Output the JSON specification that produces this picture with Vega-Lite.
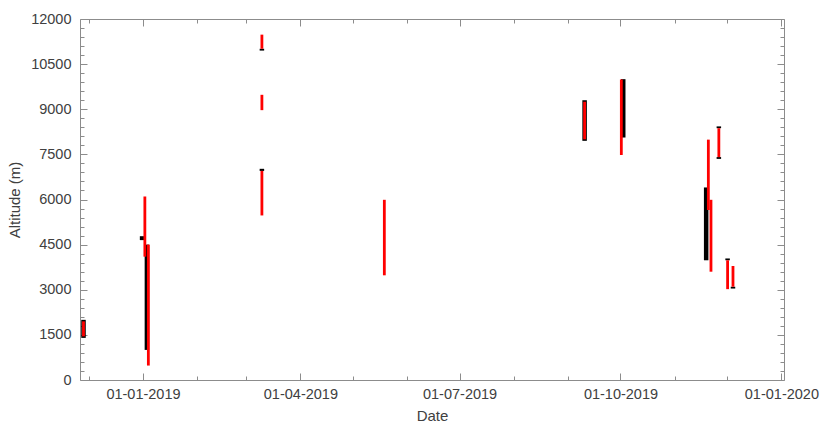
{
  "$schema": "https://vega.github.io/schema/vega-lite/v6.json",
  "autosize": "none",
  "width": 704,
  "height": 361,
  "padding": {"left": 80, "top": 19, "right": 36, "bottom": 46},
  "background": "white",
  "config": {
    "view": {"stroke": null},
    "axis": {
      "labelFont": "Liberation Sans",
      "titleFont": "Liberation Sans",
      "labelFontSize": 14.5,
      "titleFontSize": 15,
      "titleFontWeight": "normal",
      "labelColor": "#404040",
      "titleColor": "#404040",
      "domainColor": "#8c8c8c",
      "tickColor": "#8c8c8c",
      "tickWidth": 1,
      "grid": false
    }
  },
  "data": {
    "values": [
      {"date": "2018-11-28T00:00", "lo": 1400, "hi": 2000, "series": "black"},
      {"date": "2018-12-31T12:00", "lo": 4650, "hi": 4780, "series": "black"},
      {"date": "2019-01-03T06:00", "lo": 1000, "hi": 4500, "series": "black"},
      {"date": "2019-03-10T00:00", "lo": 10950, "hi": 11010, "series": "black"},
      {"date": "2019-03-10T00:00", "lo": 6950, "hi": 7020, "series": "black"},
      {"date": "2019-09-10T12:00", "lo": 7950, "hi": 9300, "series": "black"},
      {"date": "2019-10-02T14:00", "lo": 8060, "hi": 10000, "series": "black"},
      {"date": "2019-11-19T00:00", "lo": 3980, "hi": 6400, "series": "black"},
      {"date": "2019-11-26T06:00", "lo": 8370, "hi": 8430, "series": "black"},
      {"date": "2019-11-26T06:00", "lo": 7350, "hi": 7410, "series": "black"},
      {"date": "2019-12-01T06:00", "lo": 3980, "hi": 4040, "series": "black"},
      {"date": "2019-12-04T08:00", "lo": 3040, "hi": 3100, "series": "black"},
      {"date": "2018-11-28T00:00", "lo": 1450, "hi": 1950, "series": "red"},
      {"date": "2019-01-02T02:00", "lo": 4100, "hi": 6100, "series": "red"},
      {"date": "2019-01-04T02:00", "lo": 480, "hi": 4500, "series": "red"},
      {"date": "2019-03-10T00:00", "lo": 11010, "hi": 11480, "series": "red"},
      {"date": "2019-03-10T00:00", "lo": 8970, "hi": 9480, "series": "red"},
      {"date": "2019-03-10T00:00", "lo": 5470, "hi": 6950, "series": "red"},
      {"date": "2019-05-19T00:00", "lo": 3480, "hi": 5990, "series": "red"},
      {"date": "2019-09-10T12:00", "lo": 8000, "hi": 9250, "series": "red"},
      {"date": "2019-10-01T12:00", "lo": 7480, "hi": 9990, "series": "red"},
      {"date": "2019-11-20T06:00", "lo": 5650, "hi": 7990, "series": "red"},
      {"date": "2019-11-21T18:00", "lo": 3600, "hi": 5990, "series": "red"},
      {"date": "2019-11-26T06:00", "lo": 7410, "hi": 8370, "series": "red"},
      {"date": "2019-12-01T06:00", "lo": 3020, "hi": 3980, "series": "red"},
      {"date": "2019-12-04T08:00", "lo": 3100, "hi": 3790, "series": "red"}
    ]
  },
  "encoding": {
    "x": {
      "field": "date",
      "type": "temporal",
      "scale": {"domain": ["2018-11-26T00:00", "2020-01-02T12:00"], "nice": false},
      "title": "Date"
    },
    "y": {
      "field": "lo",
      "type": "quantitative",
      "scale": {"domain": [0, 12000], "nice": false, "zero": true},
      "title": "Altitude (m)"
    },
    "y2": {"field": "hi"}
  },
  "layer": [
    {
      "transform": [{"filter": "datum.series === 'black'"}],
      "mark": {"type": "rule", "color": "black", "strokeWidth": 4.5, "strokeCap": "butt"},
      "encoding": {
        "x": {
          "field": "date",
          "type": "temporal",
          "title": "Date",
          "axis": {
            "orient": "bottom",
            "values": [
              {"year": 2018, "month": 12, "date": 1},
              {"year": 2019, "month": 1, "date": 1},
              {"year": 2019, "month": 2, "date": 1},
              {"year": 2019, "month": 3, "date": 1},
              {"year": 2019, "month": 4, "date": 1},
              {"year": 2019, "month": 5, "date": 1},
              {"year": 2019, "month": 6, "date": 1},
              {"year": 2019, "month": 7, "date": 1},
              {"year": 2019, "month": 8, "date": 1},
              {"year": 2019, "month": 9, "date": 1},
              {"year": 2019, "month": 10, "date": 1},
              {"year": 2019, "month": 11, "date": 1},
              {"year": 2019, "month": 12, "date": 1},
              {"year": 2020, "month": 1, "date": 1}
            ],
            "labelExpr": "month(datum.value) % 3 === 0 ? timeFormat(datum.value, '%d-%m-%Y') : ''",
            "tickSize": {"condition": {"test": "month(datum.value) % 3 === 0", "value": -7}, "value": -4},
            "labelPadding": 14,
            "titlePadding": 5,
            "labelOverlap": false,
            "labelFlush": false
          }
        },
        "y": {
          "field": "lo",
          "type": "quantitative",
          "title": "Altitude (m)",
          "axis": {
            "orient": "left",
            "values": [0,300,600,900,1200,1500,1800,2100,2400,2700,3000,3300,3600,3900,4200,4500,4800,5100,5400,5700,6000,6300,6600,6900,7200,7500,7800,8100,8400,8700,9000,9300,9600,9900,10200,10500,10800,11100,11400,11700,12000],
            "labelExpr": "datum.value % 1500 === 0 ? datum.value : ''",
            "tickSize": {"condition": {"test": "datum.value % 1500 === 0", "value": -7}, "value": -4},
            "labelPadding": 16,
            "titlePadding": 8,
            "labelOverlap": false,
            "labelFlush": false
          }
        }
      }
    },
    {
      "transform": [{"filter": "datum.series === 'red'"}],
      "mark": {"type": "rule", "color": "#ff0000", "strokeWidth": 2.8, "strokeCap": "butt"},
      "encoding": {
        "x": {
          "field": "date",
          "type": "temporal",
          "axis": {
            "orient": "top",
            "title": null,
            "labels": false,
            "values": [
              {"year": 2018, "month": 12, "date": 1},
              {"year": 2019, "month": 1, "date": 1},
              {"year": 2019, "month": 2, "date": 1},
              {"year": 2019, "month": 3, "date": 1},
              {"year": 2019, "month": 4, "date": 1},
              {"year": 2019, "month": 5, "date": 1},
              {"year": 2019, "month": 6, "date": 1},
              {"year": 2019, "month": 7, "date": 1},
              {"year": 2019, "month": 8, "date": 1},
              {"year": 2019, "month": 9, "date": 1},
              {"year": 2019, "month": 10, "date": 1},
              {"year": 2019, "month": 11, "date": 1},
              {"year": 2019, "month": 12, "date": 1},
              {"year": 2020, "month": 1, "date": 1}
            ],
            "tickSize": {"condition": {"test": "month(datum.value) % 3 === 0", "value": -7}, "value": -4}
          }
        },
        "y": {
          "field": "lo",
          "type": "quantitative",
          "axis": {
            "orient": "right",
            "title": null,
            "labels": false,
            "values": [0,300,600,900,1200,1500,1800,2100,2400,2700,3000,3300,3600,3900,4200,4500,4800,5100,5400,5700,6000,6300,6600,6900,7200,7500,7800,8100,8400,8700,9000,9300,9600,9900,10200,10500,10800,11100,11400,11700,12000],
            "tickSize": {"condition": {"test": "datum.value % 1500 === 0", "value": -7}, "value": -4}
          }
        }
      }
    }
  ],
  "resolve": {"axis": {"x": "independent", "y": "independent"}}
}
